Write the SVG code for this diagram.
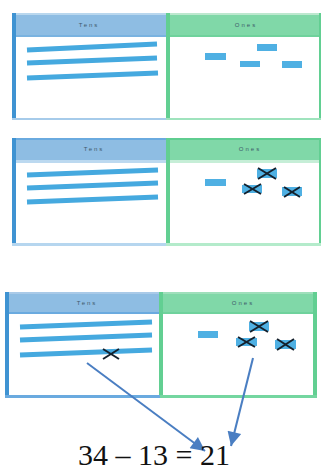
<svg xmlns="http://www.w3.org/2000/svg" width="321" height="472" viewBox="0 0 321 472">
<defs>
<style>
.hb{fill:#8ebde3}
.hg{fill:#80d8a8}
.bb{fill:#3f93d2}
.bg{fill:#62cf92}
.rod{stroke:#45a9df;stroke-width:5;stroke-linecap:butt}
.cube{fill:#4fb0e3}
.x{stroke:#14202c;stroke-width:2}
.ht{font-family:"Liberation Sans",Arial,sans-serif;font-size:6px;fill:#3e5a6a;letter-spacing:2px;text-anchor:middle}
.conn{stroke:#4a7ec2;stroke-width:2;fill:none}
.eq{font-family:"Liberation Serif","Times New Roman",serif;font-size:30px;fill:#111}
</style>
<marker id="ah2" viewBox="0 0 10 10" refX="10" refY="5" markerWidth="18" markerHeight="14" markerUnits="userSpaceOnUse" orient="auto">
<path d="M0,0 L10,5 L0,10 z" fill="#4a7ec2"/>
</marker>
</defs>

<g id="panel1">
<rect x="12" y="13" width="309" height="107" fill="#ffffff"/>
<rect x="12" y="13" width="154" height="23" class="hb"/>
<rect x="166" y="13" width="155" height="23" class="hg"/>
<rect x="12" y="13" width="154" height="2" fill="#b9d7ee"/>
<rect x="166" y="13" width="155" height="2" fill="#bde8cf"/>
<rect x="12" y="35" width="154" height="2" fill="#7ab3e0"/>
<rect x="166" y="35" width="155" height="2" fill="#6fd29c"/>
<rect x="12" y="13" width="4" height="107" class="bb"/>
<rect x="166" y="13" width="4" height="107" class="bg"/>
<rect x="319" y="13" width="2" height="107" class="bg"/>
<rect x="12" y="118" width="154" height="2" fill="#a6cbea"/>
<rect x="166" y="118" width="155" height="2" fill="#9fe3bd"/>
<text x="89" y="27" class="ht">Tens</text>
<text x="246" y="27" class="ht">Ones</text>
<line x1="27" y1="50" x2="157" y2="44" class="rod"/>
<line x1="27" y1="63" x2="157" y2="58" class="rod"/>
<line x1="27" y1="78" x2="158" y2="73" class="rod"/>
<rect x="205" y="53" width="21" height="7" class="cube"/>
<rect x="257" y="44" width="20" height="7" class="cube"/>
<rect x="240" y="61" width="20" height="6" class="cube"/>
<rect x="282" y="61" width="20" height="7" class="cube"/>
</g>

<g id="panel2">
<rect x="12" y="138" width="309" height="107" fill="#ffffff"/>
<rect x="12" y="138" width="154" height="23" class="hb"/>
<rect x="166" y="138" width="155" height="23" class="hg"/>
<rect x="12" y="138" width="154" height="2" fill="#6aaadf"/>
<rect x="166" y="138" width="155" height="2" fill="#5fcd90"/>
<rect x="12" y="160" width="154" height="3" fill="#bcd9f0"/>
<rect x="166" y="160" width="155" height="3" fill="#c6eed7"/>
<rect x="12" y="138" width="4" height="107" class="bb"/>
<rect x="166" y="138" width="4" height="107" class="bg"/>
<rect x="319" y="138" width="2" height="107" class="bg"/>
<rect x="12" y="243" width="154" height="3" fill="#b6d6ef"/>
<rect x="166" y="243" width="155" height="3" fill="#b4ebcb"/>
<text x="94" y="151" class="ht">Tens</text>
<text x="250" y="151" class="ht">Ones</text>
<line x1="27" y1="175" x2="158" y2="170" class="rod"/>
<line x1="27" y1="188" x2="158" y2="183" class="rod"/>
<line x1="27" y1="202" x2="158" y2="197" class="rod"/>
<rect x="205" y="179" width="21" height="7" class="cube"/>
<rect x="257" y="169" width="20" height="9" class="cube"/>
<line x1="258" y1="168" x2="276" y2="179" class="x"/>
<line x1="258" y1="179" x2="276" y2="168" class="x"/>
<rect x="242" y="185" width="20" height="8" class="cube"/>
<line x1="244" y1="184" x2="261" y2="194" class="x"/>
<line x1="244" y1="194" x2="261" y2="184" class="x"/>
<rect x="282" y="187" width="20" height="9" class="cube"/>
<line x1="284" y1="187" x2="300" y2="197" class="x"/>
<line x1="284" y1="197" x2="300" y2="187" class="x"/>
</g>

<g id="panel3">
<rect x="5" y="292" width="312" height="106" fill="#ffffff"/>
<rect x="5" y="292" width="155" height="22" class="hb"/>
<rect x="160" y="292" width="157" height="22" class="hg"/>
<rect x="5" y="292" width="155" height="2" fill="#a9cae8"/>
<rect x="160" y="292" width="157" height="2" fill="#9fdfbb"/>
<rect x="5" y="312" width="155" height="2" fill="#6aaadf"/>
<rect x="160" y="312" width="157" height="2" fill="#6fd29c"/>
<rect x="5" y="292" width="4" height="106" class="bb"/>
<rect x="159" y="292" width="4" height="106" class="bg"/>
<rect x="313" y="292" width="4" height="106" class="bg"/>
<rect x="5" y="395" width="155" height="3" fill="#6aaadf"/>
<rect x="160" y="395" width="157" height="3" fill="#74d6a0"/>
<text x="87" y="305" class="ht">Tens</text>
<text x="243" y="305" class="ht">Ones</text>
<line x1="20" y1="327" x2="152" y2="322" class="rod"/>
<line x1="20" y1="340" x2="152" y2="335" class="rod"/>
<line x1="20" y1="355" x2="152" y2="350" class="rod"/>
<line x1="103" y1="349" x2="119" y2="359" class="x"/>
<line x1="103" y1="359" x2="119" y2="349" class="x"/>
<rect x="198" y="331" width="20" height="7" class="cube"/>
<rect x="249" y="322" width="20" height="9" class="cube"/>
<line x1="250" y1="321" x2="268" y2="332" class="x"/>
<line x1="250" y1="332" x2="268" y2="321" class="x"/>
<rect x="236" y="338" width="21" height="8" class="cube"/>
<line x1="238" y1="337" x2="255" y2="347" class="x"/>
<line x1="238" y1="347" x2="255" y2="337" class="x"/>
<rect x="275" y="340" width="21" height="9" class="cube"/>
<line x1="277" y1="339" x2="294" y2="350" class="x"/>
<line x1="277" y1="350" x2="294" y2="339" class="x"/>
</g>

<g id="connectors">
<line x1="87" y1="363" x2="205" y2="451" class="conn" marker-end="url(#ah2)"/>
<line x1="253" y1="358" x2="231" y2="446" class="conn" marker-end="url(#ah2)"/>
</g>

<g id="equation">
<text x="78" y="465" class="eq">34 – 13 = 21</text>
</g>
</svg>
